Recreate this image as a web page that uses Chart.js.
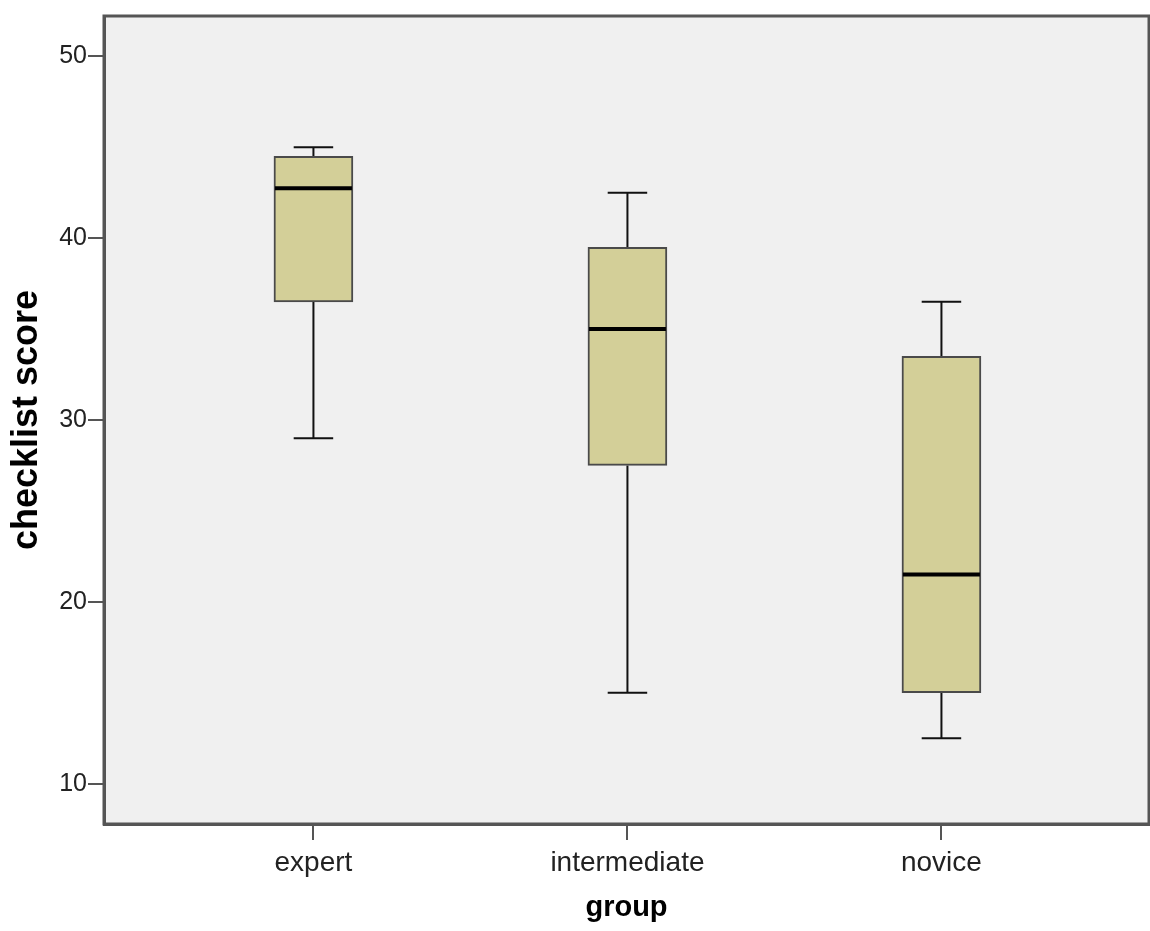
<!DOCTYPE html>
<html lang="en">

<head>
    <meta charset="UTF-8" />
    <title>Checklist score by group</title>
    <style>
        body {
            margin: 0;
            background: #ffffff;
        }

        #boxChart {
            display: block;
        }
    </style>
</head>

<body>
    <canvas id="boxChart" width="1150" height="931"></canvas>

    <script src="https://cdn.jsdelivr.net/npm/chart.js"></script>
    <script>
        // Box plot summary per group
        const groups = ['expert', 'intermediate', 'novice'];
        const whiskerLow = [29, 15, 12.5];
        const quartile1 = [36.5, 27.5, 15];
        const medians = [42.75, 35, 21.5];
        const quartile3 = [44.5, 39.5, 33.5];
        const whiskerHigh = [45, 42.5, 36.5];
        const yTickValues = [10, 20, 30, 40, 50];

        const frameColor = '#555555';

        // Plot background, whiskers, medians and frame
        const boxPlotParts = {
            id: 'boxPlotParts',
            beforeDraw(chart) {
                const { ctx, chartArea: a } = chart;
                ctx.save();
                ctx.fillStyle = '#f0f0f0';
                ctx.fillRect(a.left, a.top, a.right - a.left, a.bottom - a.top);
                ctx.restore();
            },
            beforeDatasetsDraw(chart) {
                const { ctx, scales: { x, y } } = chart;
                const bars = chart.getDatasetMeta(0).data;
                ctx.save();
                ctx.strokeStyle = '#111111';
                ctx.lineWidth = 2;
                groups.forEach((g, i) => {
                    const cx = x.getPixelForValue(i);
                    const half = bars[i].width / 4;
                    const yLo = y.getPixelForValue(whiskerLow[i]);
                    const yQ1 = y.getPixelForValue(quartile1[i]);
                    const yQ3 = y.getPixelForValue(quartile3[i]);
                    const yHi = y.getPixelForValue(whiskerHigh[i]);
                    ctx.beginPath();
                    ctx.moveTo(cx, yHi);
                    ctx.lineTo(cx, yQ3);
                    ctx.moveTo(cx, yQ1);
                    ctx.lineTo(cx, yLo);
                    ctx.moveTo(cx - half, yHi);
                    ctx.lineTo(cx + half, yHi);
                    ctx.moveTo(cx - half, yLo);
                    ctx.lineTo(cx + half, yLo);
                    ctx.stroke();
                });
                ctx.restore();
            },
            afterDatasetsDraw(chart) {
                const { ctx, scales: { x, y } } = chart;
                const bars = chart.getDatasetMeta(0).data;
                ctx.save();
                ctx.strokeStyle = '#000000';
                ctx.lineWidth = 4;
                groups.forEach((g, i) => {
                    const cx = x.getPixelForValue(i);
                    const half = bars[i].width / 2 - 1;
                    const ym = y.getPixelForValue(medians[i]);
                    ctx.beginPath();
                    ctx.moveTo(cx - half, ym);
                    ctx.lineTo(cx + half, ym);
                    ctx.stroke();
                });
                ctx.restore();
            },
            afterDraw(chart) {
                const { ctx, chartArea: a } = chart;
                ctx.save();
                ctx.strokeStyle = frameColor;
                ctx.lineWidth = 3;
                ctx.strokeRect(a.left, a.top, a.right - a.left, a.bottom - a.top);
                ctx.restore();
            }
        };

        const ctx = document.getElementById('boxChart').getContext('2d');
        const boxChart = new Chart(ctx, {
            type: 'bar',
            data: {
                datasets: [{
                    label: 'checklist score',
                    data: groups.map((g, i) => ({ x: i, y: [quartile1[i], quartile3[i]] })),
                    backgroundColor: '#d3cf98',
                    borderColor: '#4a4a4a',
                    borderWidth: 2,
                    borderSkipped: false,
                    barThickness: 79
                }]
            },
            options: {
                responsive: false,
                animation: false,
                layout: {
                    padding: { top: 13, right: 1, left: 0, bottom: 0 }
                },
                plugins: {
                    legend: { display: false },
                    tooltip: { enabled: false }
                },
                scales: {
                    x: {
                        type: 'linear',
                        offset: false,
                        min: -0.667,
                        max: 2.661,
                        afterBuildTicks: (scale) => {
                            scale.ticks = groups.map((g, i) => ({ value: i }));
                        },
                        afterFit: (scale) => {
                            scale.height = 107;
                        },
                        grid: {
                            offset: false,
                            drawOnChartArea: false,
                            drawTicks: true,
                            tickLength: 16,
                            color: frameColor,
                            lineWidth: 2
                        },
                        border: { color: frameColor, width: 3 },
                        ticks: {
                            padding: 6,
                            color: '#222222',
                            font: { family: 'Liberation Sans', size: 28 },
                            callback: (value) => groups[value] ?? ''
                        },
                        title: {
                            display: true,
                            text: 'group',
                            color: '#000000',
                            padding: { top: 0, bottom: 6 },
                            font: { family: 'Liberation Sans', size: 29, weight: 'bold' }
                        }
                    },
                    y: {
                        min: 7.78,
                        max: 52.22,
                        afterBuildTicks: (scale) => {
                            scale.ticks = yTickValues.map(v => ({ value: v }));
                        },
                        afterFit: (scale) => {
                            scale.width = 104;
                        },
                        grid: {
                            drawOnChartArea: false,
                            drawTicks: true,
                            tickLength: 16,
                            color: frameColor,
                            lineWidth: 2
                        },
                        border: { color: frameColor, width: 3 },
                        ticks: {
                            padding: 1,
                            color: '#222222',
                            font: { family: 'Liberation Sans', size: 25 }
                        },
                        title: {
                            display: true,
                            text: 'checklist score',
                            color: '#000000',
                            padding: { top: 5, bottom: 0 },
                            font: { family: 'Liberation Sans', size: 36, weight: 'bold' }
                        }
                    }
                }
            },
            plugins: [boxPlotParts]
        });
    </script>
</body>

</html>
